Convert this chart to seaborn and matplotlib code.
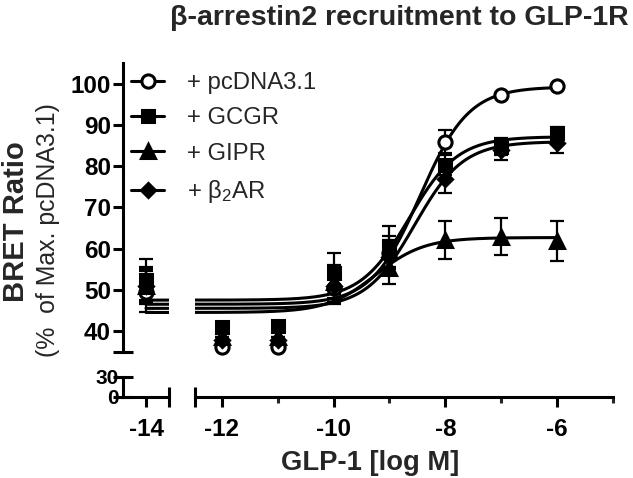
import numpy as np
import pandas as pd
import matplotlib.pyplot as plt
from matplotlib.lines import Line2D
import seaborn as sns

# agonist doses, log M (-14 is the vehicle / basal column)
DOSES = [-14, -12, -11, -10, -9, -8, -7, -6]
LABELS = ["+ pcDNA3.1", "+ GCGR", "+ GIPR", "+ β$_2$AR"]

# mean BRET, % of max pcDNA3.1
PCDNA = [49.5, 36.0, 36.0, 50.5, 59.0, 86.0, 97.3, 99.6]
GCGR = [52.5, 41.0, 41.2, 54.0, 60.5, 80.3, 84.8, 88.0]
GIPR = [51.0, 38.5, 38.5, 52.0, 55.3, 62.1, 62.9, 61.8]
B2AR = [51.0, 37.8, 37.8, 51.0, 58.0, 77.0, 84.0, 85.7]

# SEM
PCDNA_ERR = [5.0, 0.0, 0.0, 4.0, 4.0, 2.8, 0.5, 0.5]
GCGR_ERR = [5.0, 0.0, 0.0, 5.0, 5.0, 2.5, 2.0, 1.5]
GIPR_ERR = [4.5, 0.0, 0.0, 4.0, 4.0, 4.7, 4.5, 4.8]
B2AR_ERR = [4.0, 0.0, 0.0, 4.0, 4.0, 3.5, 2.5, 2.5]

# 4PL fit (hill = 1): bottom, top, logEC50
FIT_BOTTOM = [46.5, 47.5, 44.5, 45.5]
FIT_TOP = [99.3, 87.2, 62.7, 86.0]
FIT_LOGEC50 = [-8.45, -8.65, -9.25, -8.55]

MEANS = [PCDNA, GCGR, GIPR, B2AR]
ERRS = [PCDNA_ERR, GCGR_ERR, GIPR_ERR, B2AR_ERR]
MARKERS = [dict(marker="o", ms=9.5, mfc="white"),
           dict(marker="s", ms=8.5, mfc="black"),
           dict(marker="^", ms=9.5, mfc="black"),
           dict(marker="D", ms=7.5, mfc="black")]

sns.set_theme(style="ticks")
plt.rcParams["font.family"] = ["Liberation Sans", "DejaVu Sans"]
plt.rcParams["mathtext.fontset"] = "custom"
plt.rcParams["mathtext.rm"] = "Liberation Sans"
plt.rcParams["mathtext.it"] = "Liberation Sans:italic"
plt.rcParams["mathtext.bf"] = "Liberation Sans:bold"
plt.rcParams["axes.unicode_minus"] = False

LW = 2.2
TICK_FS = 17.5

xfit = np.linspace(-14, -6, 300)
curves = pd.concat([
    pd.DataFrame({"logx": xfit,
                  "resp": b + (t - b) / (1 + 10 ** (e - xfit)),
                  "series": lab})
    for lab, b, t, e in zip(LABELS, FIT_BOTTOM, FIT_TOP, FIT_LOGEC50)
])

W, H = 633, 478
fig = plt.figure(figsize=(W / 100, H / 100), dpi=100)
ax_ul = fig.add_axes([123 / W, (H - 352) / H, 46 / W, 289 / H])
ax_ur = fig.add_axes([195 / W, (H - 352) / H, 418 / W, 289 / H])
ax_ll = fig.add_axes([123 / W, (H - 397) / H, 46 / W, 20 / H])
ax_lr = fig.add_axes([195 / W, (H - 397) / H, 418 / W, 20 / H])

for ax in (ax_ul, ax_ur, ax_ll, ax_lr):
    ax.set_facecolor("none")
    for s in ax.spines.values():
        s.set_linewidth(LW)
        s.set_color("black")
    ax.spines["top"].set_visible(False)
    ax.spines["right"].set_visible(False)
    ax.tick_params(width=LW, length=7.2, color="black", labelsize=TICK_FS,
                   labelcolor="black")

# left segment holds the vehicle column only, right segment the dose range
for ax, sl in ((ax_ul, slice(0, 1)), (ax_ur, slice(1, None))):
    sns.lineplot(data=curves, x="logx", y="resp", units="series",
                 estimator=None, color="black", lw=LW, ax=ax, legend=False,
                 zorder=2)
    for y, e, mk in zip(MEANS, ERRS, MARKERS):
        ax.errorbar(DOSES[sl], y[sl], yerr=e[sl], fmt="none", ecolor="black",
                    elinewidth=1.6, capsize=4.7, capthick=1.6, zorder=3,
                    clip_on=False)
        ax.plot(DOSES[sl], y[sl], ls="none", color="black", mec="black",
                mew=2.2, zorder=4, clip_on=False, **mk)
    ax.set_ylim(34.9, 105.1)
    ax.spines["bottom"].set_visible(False)
    ax.set_xticks([])
    ax.set_xlabel("")
    ax.set_ylabel("")

ax_ul.set_xlim(-14.41, -13.59)
ax_ur.set_xlim(-12.48, -5.0)
ax_ul.set_yticks(range(40, 101, 10))
ax_ul.tick_params(axis="y", pad=1.5)
for lab in ax_ul.get_yticklabels():
    lab.set_fontweight("bold")
ax_ur.spines["left"].set_visible(False)
ax_ur.set_yticks([])

ax_ll.set_xlim(-14.41, -13.59)
ax_lr.set_xlim(-12.48, -5.0)
for ax in (ax_ll, ax_lr):
    ax.set_ylim(0, 30)
ax_ll.set_yticks([0, 30])
ax_ll.tick_params(axis="y", direction="inout", length=13.7, pad=-3.5,
                  labelsize=15)
ax_ll.set_xticks([-14])
ax_lr.spines["left"].set_visible(False)
ax_lr.set_yticks([])
ax_lr.set_xticks([-12, -10, -8, -6])
ax_lr.set_xticks([-11, -9, -7, -5], minor=True)
ax_lr.tick_params(axis="x", which="minor", length=4.3, width=LW)
for ax in (ax_ll, ax_lr):
    ax.tick_params(axis="x", pad=8)
    for lab in ax.get_xticklabels() + ax.get_yticklabels():
        lab.set_fontweight("bold")

# break caps at the segment ends
cap = dict(color="black", mew=LW, ms=13.7, clip_on=False, zorder=5)
ax_ul.plot([0], [34.9], marker="_", transform=ax_ul.get_yaxis_transform(), **cap)
ax_ll.plot([-13.59], [0], marker="|", transform=ax_ll.get_xaxis_transform(), **cap)
ax_lr.plot([-12.48], [0], marker="|", transform=ax_lr.get_xaxis_transform(), **cap)

handles = [Line2D([], [], color="black", lw=LW, mec="black", mew=2.2, **mk)
           for mk in MARKERS]
fig.legend(handles, LABELS, loc="upper left",
           bbox_to_anchor=(131 / W, 1 - 72 / H), frameon=False, fontsize=17.2,
           handlelength=1.4, handletextpad=0.95, labelspacing=0.56,
           borderaxespad=0, borderpad=0)

fig.text(399 / W, 1 - 18 / H, "β-arrestin2 recruitment to GLP-1R",
         ha="center", va="center", fontsize=20.5, fontweight="bold")
fig.text(16 / W, 1 - 222 / H, "BRET Ratio", rotation=90, ha="center",
         va="center", fontsize=21, fontweight="bold")
fig.text(48 / W, 1 - 230 / H, "(%  of Max. pcDNA3.1)", rotation=90,
         ha="center", va="center", fontsize=17.9)
fig.text(370 / W, 1 - 463 / H, "GLP-1 [log M]", ha="center", va="center",
         fontsize=19.7, fontweight="bold")

fig.savefig("out.png", dpi=100)
